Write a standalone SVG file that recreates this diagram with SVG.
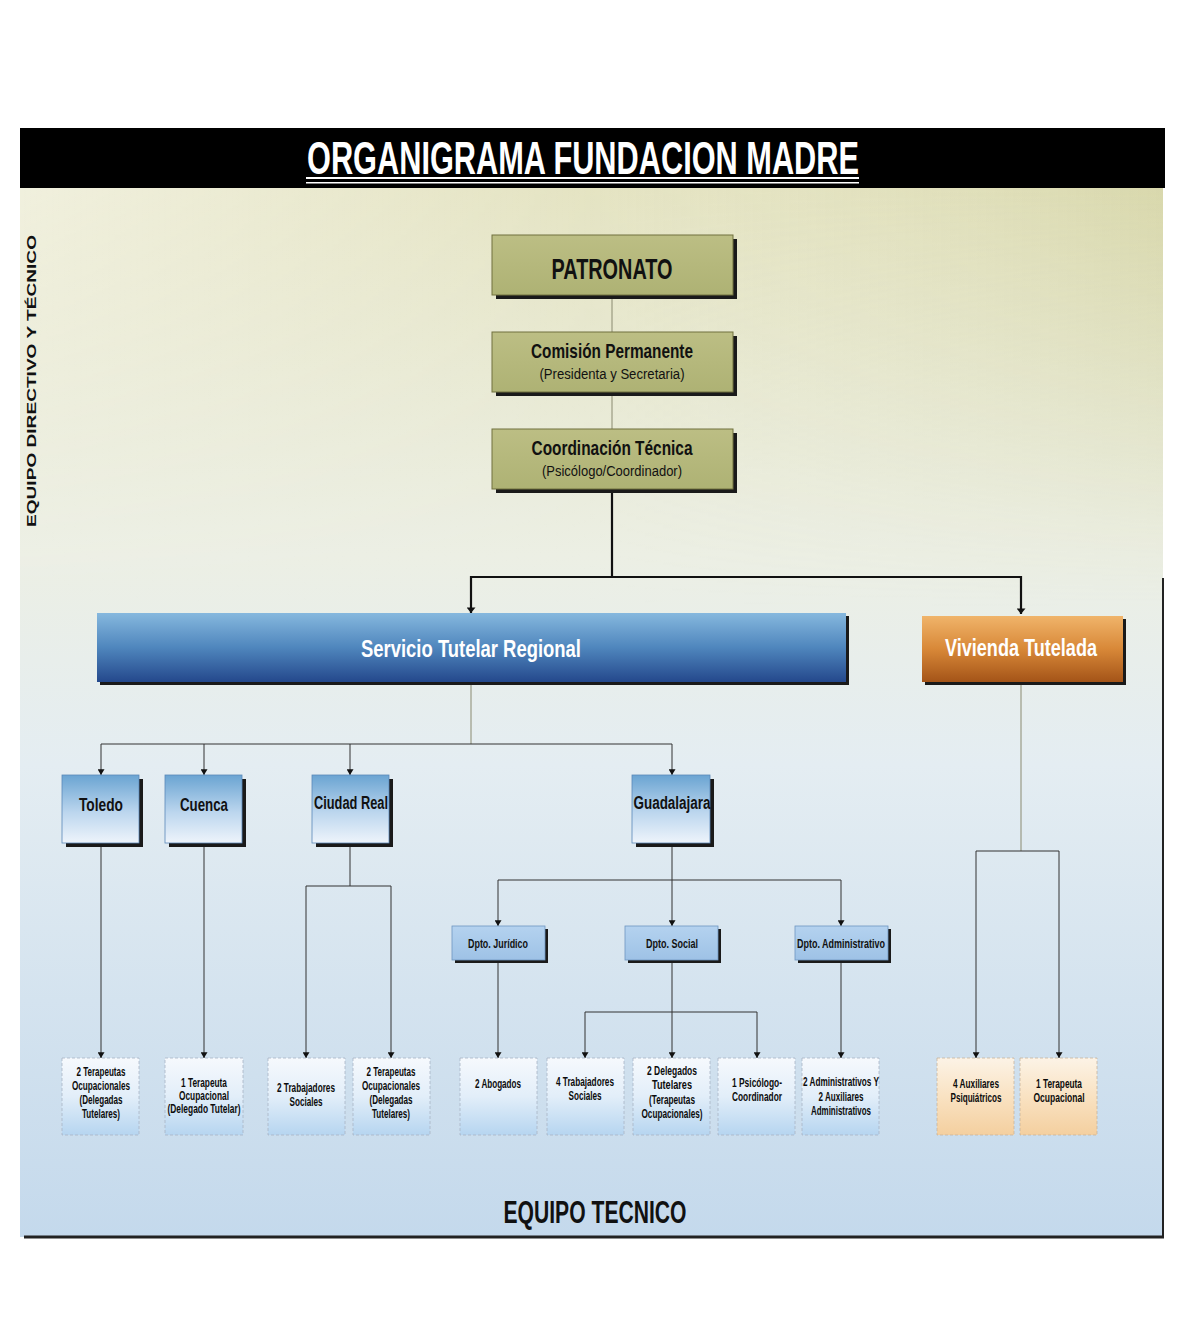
<svg xmlns="http://www.w3.org/2000/svg" width="1179" height="1342" viewBox="0 0 1179 1342">
<defs>
<linearGradient id="bgV" x1="0" y1="0" x2="0" y2="1">
<stop offset="0" stop-color="#e2e1bc"/>
<stop offset="0.35" stop-color="#ecefe4"/>
<stop offset="0.55" stop-color="#e4edf2"/>
<stop offset="1" stop-color="#c4d9ec"/>
</linearGradient>
<linearGradient id="bgH" x1="0" y1="0" x2="1" y2="0">
<stop offset="0" stop-color="#ffffff" stop-opacity="0.5"/>
<stop offset="0.5" stop-color="#ffffff" stop-opacity="0.1"/>
<stop offset="1" stop-color="#c8c890" stop-opacity="0.35"/>
</linearGradient>
<linearGradient id="bgTopFadeW" x1="0" y1="0" x2="0" y2="1">
<stop offset="0" stop-color="#fff"/>
<stop offset="1" stop-color="#000"/>
</linearGradient>
<mask id="topMask"><rect x="0" y="188" width="1179" height="420" fill="url(#bgTopFadeW)"/></mask>
<linearGradient id="olive" x1="0" y1="0" x2="0" y2="1">
<stop offset="0" stop-color="#bcbe84"/>
<stop offset="1" stop-color="#aeb274"/>
</linearGradient>
<linearGradient id="blueBar" x1="0" y1="0" x2="0" y2="1">
<stop offset="0" stop-color="#86b8de"/>
<stop offset="0.5" stop-color="#4f86bd"/>
<stop offset="1" stop-color="#24488c"/>
</linearGradient>
<linearGradient id="orangeBar" x1="0" y1="0" x2="0" y2="1">
<stop offset="0" stop-color="#f0b46a"/>
<stop offset="0.5" stop-color="#d88838"/>
<stop offset="1" stop-color="#a45418"/>
</linearGradient>
<linearGradient id="region" x1="0" y1="0" x2="0" y2="1">
<stop offset="0" stop-color="#6aa4d2"/>
<stop offset="0.55" stop-color="#bcd6ee"/>
<stop offset="1" stop-color="#eef4fb"/>
</linearGradient>
<linearGradient id="dpto" x1="0" y1="0" x2="0" y2="1">
<stop offset="0" stop-color="#b4d2ef"/>
<stop offset="1" stop-color="#9ec2e6"/>
</linearGradient>
<linearGradient id="leafB" x1="0" y1="0" x2="0" y2="1">
<stop offset="0" stop-color="#f6f9fd"/>
<stop offset="0.5" stop-color="#e2eef9"/>
<stop offset="1" stop-color="#b6d5f0"/>
</linearGradient>
<linearGradient id="leafO" x1="0" y1="0" x2="0" y2="1">
<stop offset="0" stop-color="#fcf3e6"/>
<stop offset="0.5" stop-color="#f9e2c2"/>
<stop offset="1" stop-color="#f4cf9f"/>
</linearGradient>
<marker id="arrT" viewBox="0 0 10 16" refX="10" refY="8" markerWidth="14" markerHeight="9" markerUnits="userSpaceOnUse" orient="auto">
<path d="M0,0 L10,8 L0,16 Z" fill="#111"/>
</marker>
<marker id="arr" viewBox="0 0 10 12" refX="10" refY="6" markerWidth="13" markerHeight="7" markerUnits="userSpaceOnUse" orient="auto">
<path d="M0,0 L10,6 L0,12 Z" fill="#111"/>
</marker>
</defs>
<style>
.t{font-family:"Liberation Sans",Arial,sans-serif;font-weight:bold;text-anchor:middle}
.n{font-weight:normal}
.dk{fill:#111}
.wh{fill:#fff}
.sh{fill:#1a1a1a}
.ob{fill:url(#olive);stroke:#70703e;stroke-width:1}
.rb{fill:url(#region);stroke:#5a88b8;stroke-width:0.8}
.db{fill:url(#dpto);stroke:#6e96c0;stroke-width:0.8}
.lb{fill:url(#leafB);stroke:#a8b4c4;stroke-width:0.8;stroke-dasharray:3 2}
.lo{fill:url(#leafO);stroke:#c8b49c;stroke-width:0.8;stroke-dasharray:3 2}
.c{fill:none;stroke:#333;stroke-width:1}
.cg{fill:none;stroke:#8a8a70;stroke-width:1}
.ck{fill:none;stroke:#111;stroke-width:2.2}
.s11{font-size:12.5px;fill:#0c0c0c}
</style>
<rect width="1179" height="1342" fill="#ffffff"/>
<g id="panel">
<rect x="20" y="188" width="1143" height="1049" fill="url(#bgV)"/>
<rect x="20" y="188" width="1143" height="420" fill="url(#bgH)" mask="url(#topMask)"/>
<line x1="1163" y1="578" x2="1163" y2="1238" stroke="#222" stroke-width="2"/>
<line x1="24" y1="1237" x2="1164" y2="1237" stroke="#222" stroke-width="3"/>
</g>
<g id="header">
<rect x="20" y="128" width="1145" height="60" fill="#000"/>
<text class="t wh" x="583" y="174" font-size="46" textLength="552" lengthAdjust="spacingAndGlyphs">ORGANIGRAMA FUNDACION MADRE</text>
<rect x="306" y="177" width="553" height="2" fill="#fff"/>
<rect x="306" y="182" width="553" height="1.5" fill="#fff"/>
</g>
<g id="side-label">
<text class="t dk" x="0" y="0" font-size="13.5" textLength="292" lengthAdjust="spacingAndGlyphs" transform="translate(36,381) rotate(-90)">EQUIPO DIRECTIVO Y TÉCNICO</text>
</g>
<g id="connectors">
<line class="cg" x1="612" y1="295" x2="612" y2="332"/>
<line class="cg" x1="612" y1="392" x2="612" y2="429"/>
<line class="ck" x1="612" y1="489" x2="612" y2="577"/>
<path class="ck" d="M471,577 H1021"/>
<line class="ck" x1="471" y1="576" x2="471" y2="613" marker-end="url(#arrT)"/>
<line class="ck" x1="1021" y1="576" x2="1021" y2="614" marker-end="url(#arrT)"/>
<line class="cg" x1="471" y1="682" x2="471" y2="744"/>
<path class="c" d="M101,744 H672"/>
<line class="c" x1="101" y1="744" x2="101" y2="775" marker-end="url(#arr)"/>
<line class="c" x1="204" y1="744" x2="204" y2="775" marker-end="url(#arr)"/>
<line class="c" x1="350" y1="744" x2="350" y2="775" marker-end="url(#arr)"/>
<line class="c" x1="672" y1="744" x2="672" y2="775" marker-end="url(#arr)"/>
<line class="c" x1="101" y1="843" x2="101" y2="1058" marker-end="url(#arr)"/>
<line class="c" x1="204" y1="843" x2="204" y2="1058" marker-end="url(#arr)"/>
<line class="c" x1="350" y1="843" x2="350" y2="886"/>
<path class="c" d="M306,886 H391"/>
<line class="c" x1="306" y1="886" x2="306" y2="1058" marker-end="url(#arr)"/>
<line class="c" x1="391" y1="886" x2="391" y2="1058" marker-end="url(#arr)"/>
<line class="c" x1="672" y1="843" x2="672" y2="880"/>
<path class="c" d="M498,880 H841"/>
<line class="c" x1="498" y1="880" x2="498" y2="926" marker-end="url(#arr)"/>
<line class="c" x1="672" y1="880" x2="672" y2="926" marker-end="url(#arr)"/>
<line class="c" x1="841" y1="880" x2="841" y2="926" marker-end="url(#arr)"/>
<line class="c" x1="498" y1="960" x2="498" y2="1058" marker-end="url(#arr)"/>
<line class="c" x1="672" y1="960" x2="672" y2="1058" marker-end="url(#arr)"/>
<path class="c" d="M585,1012 H757"/>
<line class="c" x1="585" y1="1012" x2="585" y2="1058" marker-end="url(#arr)"/>
<line class="c" x1="757" y1="1012" x2="757" y2="1058" marker-end="url(#arr)"/>
<line class="c" x1="841" y1="960" x2="841" y2="1058" marker-end="url(#arr)"/>
<line class="cg" x1="1021" y1="682" x2="1021" y2="851"/>
<path class="c" d="M976,851 H1059"/>
<line class="c" x1="976" y1="851" x2="976" y2="1058" marker-end="url(#arr)"/>
<line class="c" x1="1059" y1="851" x2="1059" y2="1058" marker-end="url(#arr)"/>
</g>
<g id="patronato">
<rect class="sh" x="496" y="239" width="241" height="60"/>
<rect class="ob" x="492" y="235" width="241" height="60"/>
<text class="t dk" x="612" y="279" font-size="30" textLength="121" lengthAdjust="spacingAndGlyphs">PATRONATO</text>
</g>
<g id="comision">
<rect class="sh" x="496" y="336" width="241" height="60"/>
<rect class="ob" x="492" y="332" width="241" height="60"/>
<text class="t dk" x="612" y="358" font-size="21" textLength="162" lengthAdjust="spacingAndGlyphs">Comisión Permanente</text>
<text class="t n dk" x="612" y="379" font-size="15.5" textLength="145" lengthAdjust="spacingAndGlyphs">(Presidenta y Secretaria)</text>
</g>
<g id="coordinacion">
<rect class="sh" x="496" y="433" width="241" height="60"/>
<rect class="ob" x="492" y="429" width="241" height="60"/>
<text class="t dk" x="612" y="455" font-size="21" textLength="161" lengthAdjust="spacingAndGlyphs">Coordinación Técnica</text>
<text class="t n dk" x="612" y="476" font-size="15.5" textLength="140" lengthAdjust="spacingAndGlyphs">(Psicólogo/Coordinador)</text>
</g>
<g id="servicio">
<rect class="sh" x="100" y="616" width="749" height="69"/>
<rect x="97" y="613" width="749" height="69" fill="url(#blueBar)"/>
<text class="t wh" x="471" y="657" font-size="24" textLength="220" lengthAdjust="spacingAndGlyphs">Servicio Tutelar Regional</text>
</g>
<g id="vivienda">
<rect class="sh" x="925" y="619" width="201" height="66"/>
<rect x="922" y="616" width="201" height="66" fill="url(#orangeBar)"/>
<text class="t wh" x="1021" y="656" font-size="23" textLength="152" lengthAdjust="spacingAndGlyphs">Vivienda Tutelada</text>
</g>
<g id="toledo">
<rect class="sh" x="66" y="779" width="77" height="68"/>
<rect class="rb" x="62" y="775" width="77" height="68"/>
<text class="t dk" x="101" y="811" font-size="19" textLength="44" lengthAdjust="spacingAndGlyphs">Toledo</text>
</g>
<g id="cuenca">
<rect class="sh" x="169" y="779" width="77" height="68"/>
<rect class="rb" x="165" y="775" width="77" height="68"/>
<text class="t dk" x="204" y="811" font-size="19" textLength="48" lengthAdjust="spacingAndGlyphs">Cuenca</text>
</g>
<g id="ciudad-real">
<rect class="sh" x="316" y="779" width="77" height="68"/>
<rect class="rb" x="312" y="775" width="77" height="68"/>
<text class="t dk" x="351" y="809" font-size="18" textLength="74" lengthAdjust="spacingAndGlyphs">Ciudad Real</text>
</g>
<g id="guadalajara">
<rect class="sh" x="636" y="779" width="78" height="68"/>
<rect class="rb" x="632" y="775" width="78" height="68"/>
<text class="t dk" x="672" y="809" font-size="18" textLength="77" lengthAdjust="spacingAndGlyphs">Guadalajara</text>
</g>
<g id="dpto-juridico">
<rect class="sh" x="455" y="929" width="93" height="34"/>
<rect class="db" x="452" y="926" width="93" height="34"/>
<text class="t dk" x="498" y="948" font-size="13.5" textLength="60" lengthAdjust="spacingAndGlyphs">Dpto. Jurídico</text>
</g>
<g id="dpto-social">
<rect class="sh" x="628" y="929" width="93" height="34"/>
<rect class="db" x="625" y="926" width="93" height="34"/>
<text class="t dk" x="672" y="948" font-size="13.5" textLength="52" lengthAdjust="spacingAndGlyphs">Dpto. Social</text>
</g>
<g id="dpto-administrativo">
<rect class="sh" x="798" y="929" width="93" height="34"/>
<rect class="db" x="795" y="926" width="93" height="34"/>
<text class="t dk" x="841" y="948" font-size="13.5" textLength="88" lengthAdjust="spacingAndGlyphs">Dpto. Administrativo</text>
</g>
<g id="leaf-toledo">
<rect class="lb" x="62" y="1058" width="77" height="77"/>
<text class="t s11" x="101" y="1076" textLength="49" lengthAdjust="spacingAndGlyphs">2 Terapeutas</text>
<text class="t s11" x="101" y="1090" textLength="58" lengthAdjust="spacingAndGlyphs">Ocupacionales</text>
<text class="t s11" x="101" y="1104" textLength="43" lengthAdjust="spacingAndGlyphs">(Delegadas</text>
<text class="t s11" x="101" y="1118" textLength="38" lengthAdjust="spacingAndGlyphs">Tutelares)</text>
</g>
<g id="leaf-cuenca">
<rect class="lb" x="165" y="1058" width="78" height="77"/>
<text class="t s11" x="204" y="1087" textLength="46" lengthAdjust="spacingAndGlyphs">1 Terapeuta</text>
<text class="t s11" x="204" y="1100" textLength="50" lengthAdjust="spacingAndGlyphs">Ocupacional</text>
<text class="t s11" x="204" y="1113" textLength="73" lengthAdjust="spacingAndGlyphs">(Delegado Tutelar)</text>
</g>
<g id="leaf-cr-trabajadores">
<rect class="lb" x="268" y="1058" width="77" height="77"/>
<text class="t s11" x="306" y="1092" textLength="58" lengthAdjust="spacingAndGlyphs">2 Trabajadores</text>
<text class="t s11" x="306" y="1106" textLength="33" lengthAdjust="spacingAndGlyphs">Sociales</text>
</g>
<g id="leaf-cr-terapeutas">
<rect class="lb" x="353" y="1058" width="77" height="77"/>
<text class="t s11" x="391" y="1076" textLength="49" lengthAdjust="spacingAndGlyphs">2 Terapeutas</text>
<text class="t s11" x="391" y="1090" textLength="58" lengthAdjust="spacingAndGlyphs">Ocupacionales</text>
<text class="t s11" x="391" y="1104" textLength="43" lengthAdjust="spacingAndGlyphs">(Delegadas</text>
<text class="t s11" x="391" y="1118" textLength="38" lengthAdjust="spacingAndGlyphs">Tutelares)</text>
</g>
<g id="leaf-abogados">
<rect class="lb" x="460" y="1058" width="77" height="77"/>
<text class="t s11" x="498" y="1088" textLength="46" lengthAdjust="spacingAndGlyphs">2 Abogados</text>
</g>
<g id="leaf-gu-trabajadores">
<rect class="lb" x="547" y="1058" width="77" height="77"/>
<text class="t s11" x="585" y="1086" textLength="58" lengthAdjust="spacingAndGlyphs">4 Trabajadores</text>
<text class="t s11" x="585" y="1100" textLength="33" lengthAdjust="spacingAndGlyphs">Sociales</text>
</g>
<g id="leaf-delegados">
<rect class="lb" x="633" y="1058" width="77" height="77"/>
<text class="t s11" x="672" y="1075" textLength="50" lengthAdjust="spacingAndGlyphs">2 Delegados</text>
<text class="t s11" x="672" y="1089" textLength="40" lengthAdjust="spacingAndGlyphs">Tutelares</text>
<text class="t s11" x="672" y="1104" textLength="46" lengthAdjust="spacingAndGlyphs">(Terapeutas</text>
<text class="t s11" x="672" y="1118" textLength="61" lengthAdjust="spacingAndGlyphs">Ocupacionales)</text>
</g>
<g id="leaf-psicologo">
<rect class="lb" x="718" y="1058" width="77" height="77"/>
<text class="t s11" x="757" y="1087" textLength="50" lengthAdjust="spacingAndGlyphs">1 Psicólogo-</text>
<text class="t s11" x="757" y="1101" textLength="50" lengthAdjust="spacingAndGlyphs">Coordinador</text>
</g>
<g id="leaf-administrativos">
<rect class="lb" x="802" y="1058" width="77" height="77"/>
<text class="t s11" x="841" y="1086" textLength="76" lengthAdjust="spacingAndGlyphs">2 Administrativos Y</text>
<text class="t s11" x="841" y="1101" textLength="45" lengthAdjust="spacingAndGlyphs">2 Auxiliares</text>
<text class="t s11" x="841" y="1115" textLength="60" lengthAdjust="spacingAndGlyphs">Administrativos</text>
</g>
<g id="leaf-auxiliares">
<rect class="lo" x="937" y="1058" width="77" height="77"/>
<text class="t s11" x="976" y="1088" textLength="46" lengthAdjust="spacingAndGlyphs">4 Auxiliares</text>
<text class="t s11" x="976" y="1102" textLength="51" lengthAdjust="spacingAndGlyphs">Psiquiátricos</text>
</g>
<g id="leaf-viv-terapeuta">
<rect class="lo" x="1020" y="1058" width="77" height="77"/>
<text class="t s11" x="1059" y="1088" textLength="46" lengthAdjust="spacingAndGlyphs">1 Terapeuta</text>
<text class="t s11" x="1059" y="1102" textLength="51" lengthAdjust="spacingAndGlyphs">Ocupacional</text>
</g>
<g id="footer-label">
<text class="t dk" x="595" y="1223" font-size="31" textLength="183" lengthAdjust="spacingAndGlyphs">EQUIPO TECNICO</text>
</g>
</svg>
